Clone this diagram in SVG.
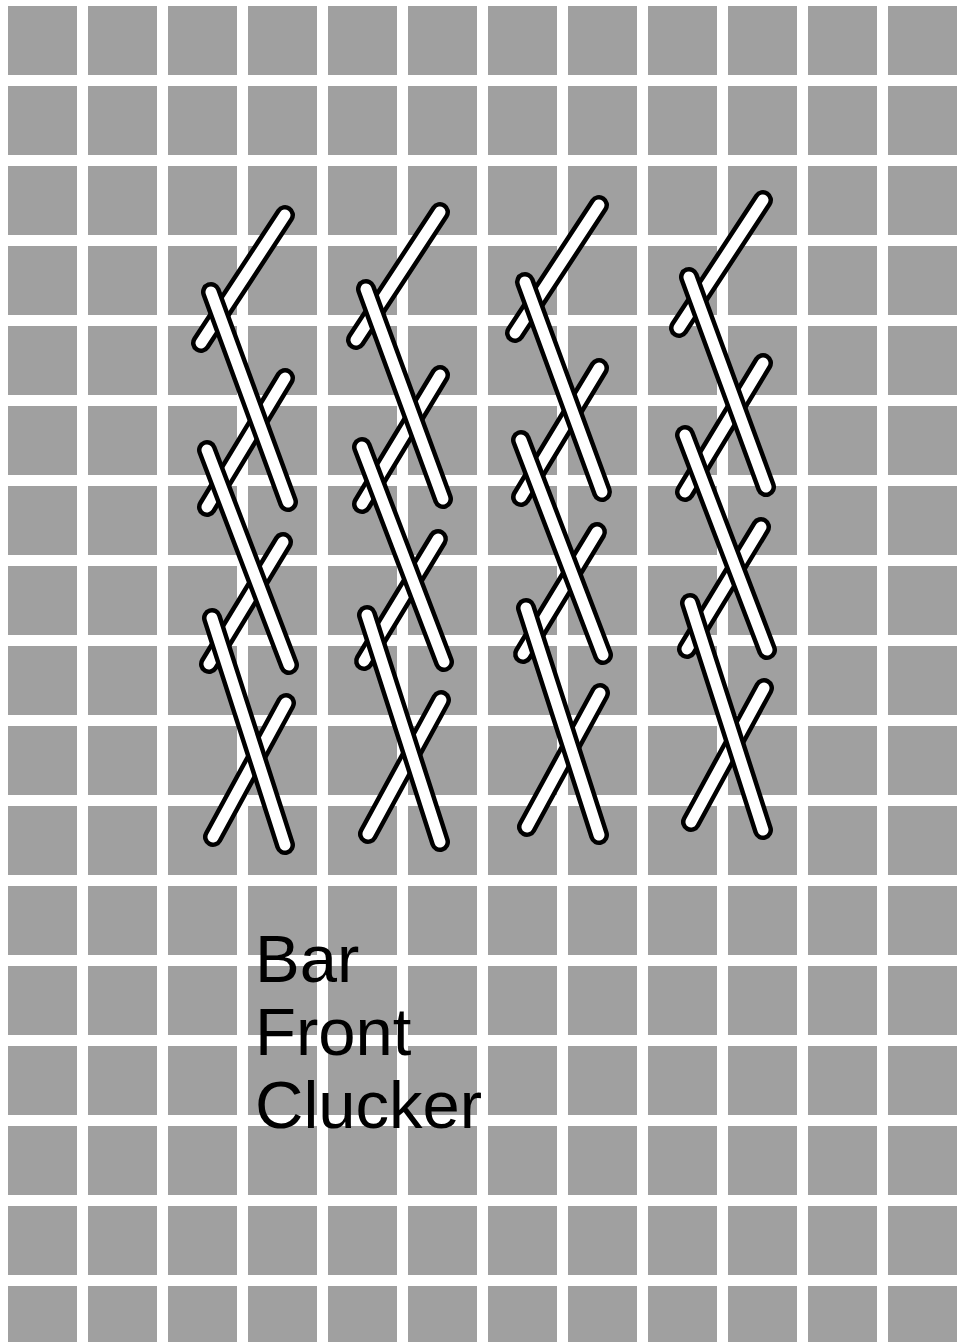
<svg xmlns="http://www.w3.org/2000/svg" xmlns:xlink="http://www.w3.org/1999/xlink" width="965" height="1342" viewBox="0 0 965 1342">
<defs>
<style>
.sq{fill:#a0a0a0}
.o{stroke:#000;stroke-width:20;stroke-linecap:round;fill:none}
.i{stroke:#fff;stroke-width:11;stroke-linecap:round;fill:none}
.t{font-family:"Liberation Sans",Arial,sans-serif;font-size:67px;fill:#000}
</style>
<pattern id="grid" x="8" y="6" width="80" height="80" patternUnits="userSpaceOnUse">
<rect class="sq" x="0" y="0" width="69" height="69"/>
</pattern>
<g id="s1"><line class="o" x1="285" y1="215" x2="201" y2="343"/><line class="i" x1="285" y1="215" x2="201" y2="343"/></g>
<g id="s2"><line class="o" x1="285" y1="378" x2="207" y2="507"/><line class="i" x1="285" y1="378" x2="207" y2="507"/></g>
<g id="s3"><line class="o" x1="283" y1="542" x2="209" y2="664"/><line class="i" x1="283" y1="542" x2="209" y2="664"/></g>
<g id="s4"><line class="o" x1="286" y1="703" x2="213" y2="837"/><line class="i" x1="286" y1="703" x2="213" y2="837"/></g>
<g id="b1"><line class="o" x1="211" y1="292" x2="288" y2="502"/><line class="i" x1="211" y1="292" x2="288" y2="502"/></g>
<g id="b2"><line class="o" x1="207" y1="450" x2="289" y2="665"/><line class="i" x1="207" y1="450" x2="289" y2="665"/></g>
<g id="b3"><line class="o" x1="212" y1="618" x2="285" y2="845"/><line class="i" x1="212" y1="618" x2="285" y2="845"/></g>
<g id="stitchcol">
<use xlink:href="#s1"/><use xlink:href="#s2"/><use xlink:href="#s3"/><use xlink:href="#s4"/>
<use xlink:href="#b1"/><use xlink:href="#b2"/><use xlink:href="#b3"/>
</g>
</defs>
<rect width="965" height="1342" fill="#fff"/>
<rect width="965" height="1342" fill="url(#grid)"/>
<g id="column1"><use xlink:href="#stitchcol"/></g>
<g id="column2"><use xlink:href="#stitchcol" transform="translate(155,-3)"/></g>
<g id="column3"><use xlink:href="#stitchcol" transform="translate(314,-10)"/></g>
<g id="column4"><use xlink:href="#stitchcol" transform="translate(478,-15)"/></g>
<g id="label">
<text class="t" x="255" y="982">Bar</text>
<text class="t" x="255" y="1055">Front</text>
<text class="t" x="255" y="1128">Clucker</text>
</g>
</svg>
